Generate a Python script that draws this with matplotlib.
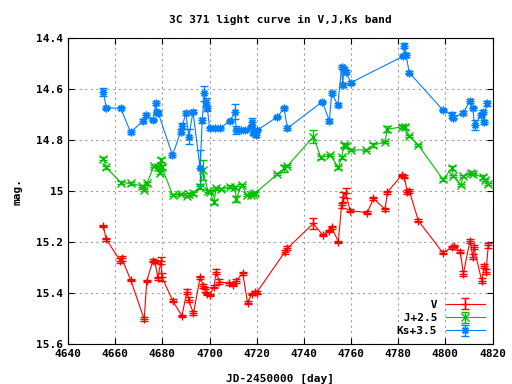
import numpy as np
import matplotlib
matplotlib.use("Agg")
import matplotlib.pyplot as plt

# V band (mag)
v_jd = [4655.0, 4656.2, 4662.1, 4662.8, 4666.6, 4672.3, 4673.4, 4676.0, 4676.9, 4678.1,
        4679.4, 4679.8, 4684.4, 4688.3, 4690.4, 4691.1, 4693.2, 4696.0, 4697.4, 4698.1,
        4699.1, 4700.0, 4701.9, 4702.8, 4704.2, 4708.4, 4710.1, 4711.3, 4714.1, 4716.1,
        4717.9, 4719.3, 4720.0, 4732.0, 4733.0, 4744.0, 4748.0, 4750.8, 4751.8, 4754.6,
        4756.0, 4756.7, 4757.8, 4759.6, 4766.9, 4769.5, 4774.4, 4775.4, 4781.5, 4782.5,
        4783.9, 4784.7, 4788.5, 4798.9, 4802.7, 4803.7, 4806.3, 4807.6, 4810.4, 4811.6,
        4812.1, 4815.4, 4816.5, 4817.2, 4818.2]
v_mag = [15.137, 15.189, 15.273, 15.264, 15.349, 15.503, 15.352, 15.273, 15.277, 15.342,
         15.273, 15.338, 15.430, 15.490, 15.395, 15.427, 15.480, 15.338, 15.373, 15.386,
         15.404, 15.408, 15.375, 15.316, 15.356, 15.362, 15.369, 15.352, 15.323, 15.438,
         15.404, 15.395, 15.398, 15.238, 15.225, 15.127, 15.173, 15.156, 15.142, 15.199,
         15.055, 15.022, 15.009, 15.077, 15.085, 15.029, 15.072, 15.005, 14.937, 14.944,
         15.003, 14.999, 15.116, 15.242, 15.221, 15.216, 15.238, 15.325, 15.195, 15.258,
         15.221, 15.352, 15.294, 15.316, 15.212]
v_err = [0.005, 0.005, 0.01, 0.01, 0.005, 0.008, 0.005, 0.005, 0.005, 0.005,
         0.015, 0.015, 0.005, 0.005, 0.01, 0.01, 0.008, 0.005, 0.008, 0.008,
         0.005, 0.005, 0.005, 0.01, 0.01, 0.005, 0.005, 0.008, 0.005, 0.005,
         0.005, 0.005, 0.005, 0.008, 0.008, 0.02, 0.005, 0.005, 0.005, 0.005,
         0.01, 0.02, 0.02, 0.005, 0.005, 0.005, 0.005, 0.005, 0.005, 0.005,
         0.008, 0.008, 0.005, 0.005, 0.005, 0.005, 0.005, 0.01, 0.008, 0.01,
         0.008, 0.01, 0.008, 0.01, 0.01]

# J band (+2.5)
j_jd = [4655.0, 4656.2, 4662.4, 4666.6, 4671.3, 4672.3, 4673.4, 4676.5, 4678.1, 4678.8,
        4679.4, 4679.8, 4684.4, 4687.8, 4690.4, 4691.5, 4692.9, 4696.0, 4697.2, 4699.3,
        4700.0, 4701.9, 4702.8, 4705.0, 4708.7, 4710.8, 4711.3, 4713.7, 4715.8, 4717.5,
        4718.5, 4719.3, 4728.8, 4731.6, 4733.0, 4744.0, 4747.2, 4751.1, 4754.6, 4756.0,
        4757.0, 4757.7, 4759.9, 4766.4, 4769.5, 4774.4, 4775.4, 4781.5, 4782.9, 4784.7,
        4788.5, 4798.9, 4802.7, 4803.4, 4806.5, 4807.6, 4810.7, 4811.8, 4815.8, 4816.8,
        4818.2]
j_mag = [14.873, 14.907, 14.967, 14.970, 14.980, 14.996, 14.970, 14.902, 14.905, 14.928,
         14.878, 14.907, 15.016, 15.012, 15.020, 15.012, 15.009, 14.983, 14.918, 14.999,
         15.003, 15.042, 14.989, 14.992, 14.983, 14.986, 15.030, 14.976, 15.016, 15.016,
         15.012, 15.009, 14.933, 14.911, 14.902, 14.787, 14.868, 14.859, 14.907, 14.868,
         14.820, 14.825, 14.839, 14.839, 14.820, 14.807, 14.758, 14.748, 14.750, 14.784,
         14.820, 14.954, 14.911, 14.941, 14.976, 14.941, 14.928, 14.933, 14.946, 14.957,
         14.973]
j_err = [0.005, 0.005, 0.005, 0.005, 0.005, 0.005, 0.005, 0.005, 0.005, 0.005,
         0.008, 0.008, 0.005, 0.005, 0.005, 0.005, 0.005, 0.01, 0.04, 0.005,
         0.005, 0.008, 0.005, 0.005, 0.005, 0.005, 0.012, 0.005, 0.005, 0.005,
         0.005, 0.005, 0.005, 0.015, 0.005, 0.025, 0.005, 0.005, 0.005, 0.005,
         0.008, 0.008, 0.005, 0.005, 0.008, 0.005, 0.012, 0.005, 0.008, 0.005,
         0.005, 0.005, 0.008, 0.005, 0.005, 0.005, 0.005, 0.005, 0.008, 0.005,
         0.005]

# Ks band (+3.5)
k_jd = [4655.0, 4656.2, 4662.4, 4666.5, 4672.0, 4673.0, 4676.0, 4677.2, 4677.7, 4678.3,
        4684.3, 4687.8, 4688.4, 4690.0, 4691.2, 4693.0, 4696.0, 4696.9, 4697.8, 4698.3,
        4699.1, 4700.0, 4702.4, 4704.5, 4708.7, 4710.8, 4711.3, 4713.3, 4715.1, 4717.5,
        4718.2, 4718.6, 4719.6, 4720.3, 4728.8, 4731.6, 4733.0, 4747.8, 4750.8, 4751.8,
        4754.4, 4756.0, 4756.4, 4757.0, 4757.7, 4759.9, 4782.2, 4782.6, 4783.3, 4784.7,
        4798.9, 4802.7, 4803.4, 4807.6, 4810.4, 4811.6, 4812.4, 4815.1, 4815.8, 4816.4,
        4817.5]
k_mag = [14.611, 14.673, 14.676, 14.769, 14.725, 14.702, 14.722, 14.656, 14.689, 14.695,
         14.860, 14.767, 14.745, 14.695, 14.787, 14.689, 14.911, 14.722, 14.617, 14.650,
         14.676, 14.754, 14.754, 14.754, 14.725, 14.689, 14.761, 14.761, 14.761, 14.750,
         14.728, 14.774, 14.780, 14.761, 14.709, 14.676, 14.754, 14.650, 14.724, 14.617,
         14.663, 14.512, 14.584, 14.523, 14.532, 14.575, 14.471, 14.431, 14.467, 14.536,
         14.682, 14.702, 14.712, 14.693, 14.646, 14.676, 14.741, 14.702, 14.689, 14.728,
         14.656]
k_err = [0.015, 0.005, 0.005, 0.008, 0.008, 0.008, 0.005, 0.008, 0.008, 0.008,
         0.008, 0.01, 0.01, 0.008, 0.03, 0.005, 0.07, 0.01, 0.03, 0.015,
         0.01, 0.005, 0.005, 0.005, 0.005, 0.03, 0.015, 0.005, 0.005, 0.005,
         0.015, 0.008, 0.008, 0.005, 0.005, 0.005, 0.008, 0.005, 0.008, 0.008,
         0.008, 0.008, 0.008, 0.008, 0.008, 0.005, 0.005, 0.01, 0.008, 0.005,
         0.005, 0.012, 0.005, 0.008, 0.008, 0.005, 0.02, 0.008, 0.008, 0.008,
         0.01]

plt.rcParams['font.family'] = 'DejaVu Sans Mono'
plt.rcParams['font.weight'] = 'bold'
plt.rcParams['axes.labelweight'] = 'bold'
plt.rcParams['axes.titleweight'] = 'bold'
plt.rcParams['font.size'] = 8

fig = plt.figure(figsize=(5.12, 3.84), dpi=100)
ax = fig.add_axes([0.1328, 0.104, 0.8293, 0.797])

series = [
    (v_jd, v_mag, v_err, '#ff0000', '+', '     V'),
    (j_jd, j_mag, j_err, '#00c000', 'x', ' J+2.5'),
    (k_jd, k_mag, k_err, '#0080ff', (8, 2, 0), 'Ks+3.5'),
]
for jd, mag, err, col, mk, lab in series:
    ax.errorbar(jd, mag, yerr=err, color=col, marker=mk, markersize=5.5,
                markeredgewidth=1.0, lw=0.8, elinewidth=1.0, capsize=3,
                capthick=1.0, label=lab)

ax.set_xlim(4640, 4820)
ax.set_ylim(15.6, 14.4)
ax.set_xticks(np.arange(4640, 4821, 20))
ax.set_yticks(np.arange(14.4, 15.61, 0.2))
ax.set_yticklabels(['14.4', '14.6', '14.8', '15', '15.2', '15.4', '15.6'])
ax.tick_params(direction='in', top=True, right=True, length=4, labelsize=8)
ax.grid(True, color='#a0a0a0', linestyle=(0, (2, 3)), lw=0.8)

ax.set_title('3C 371 light curve in V,J,Ks band', fontsize=8, pad=11)
ax.set_xlabel('JD-2450000 [day]', fontsize=8, labelpad=11)
ax.set_ylabel('mag.', fontsize=8, labelpad=10)

leg = ax.legend(loc='lower right', markerfirst=False, frameon=False, fontsize=8,
                handlelength=3.5, labelspacing=0.3, borderaxespad=0.3)

fig.savefig('out.png', dpi=100)
